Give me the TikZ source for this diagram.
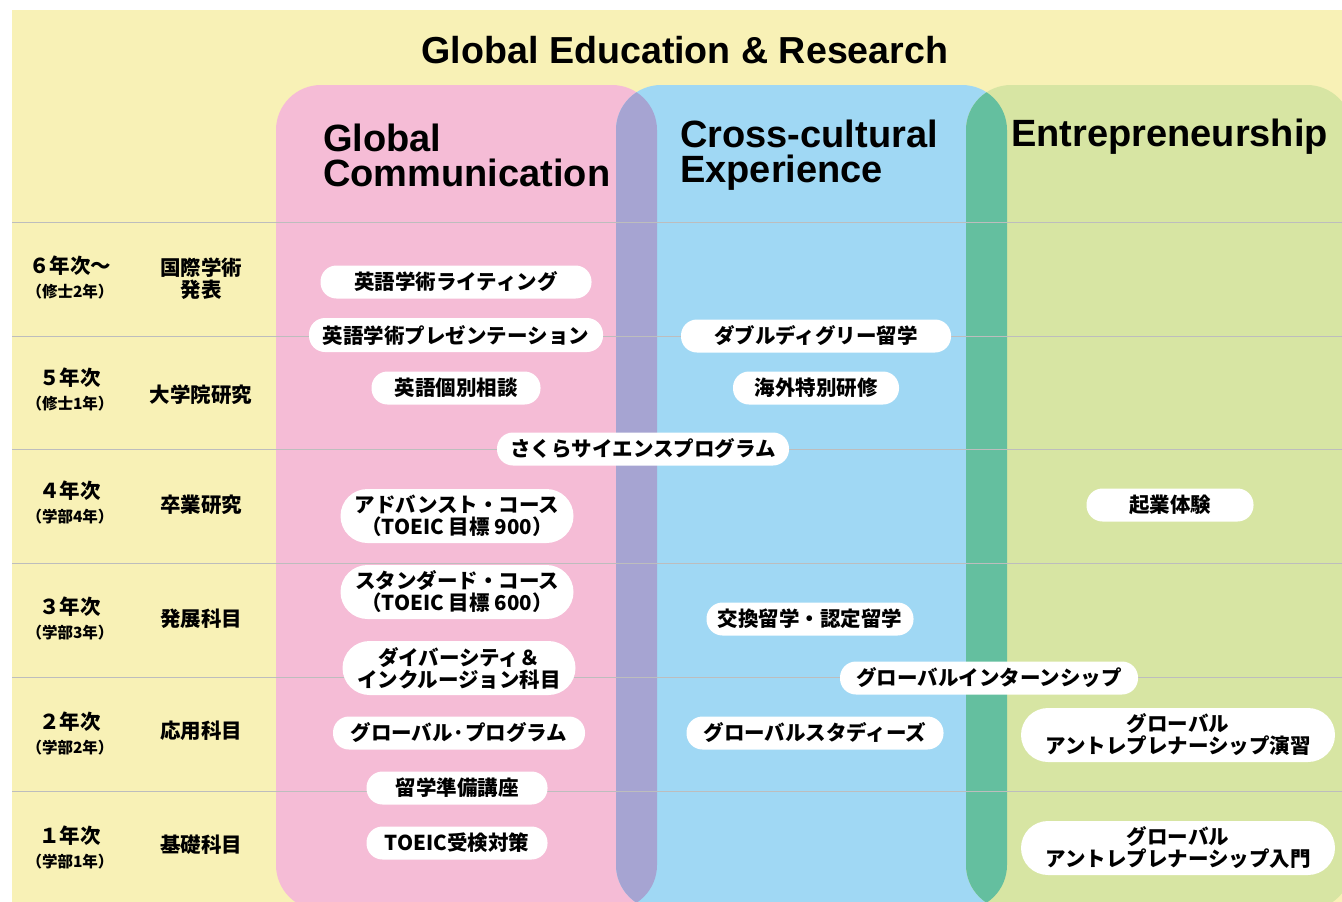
\documentclass[tikz,border=0pt]{standalone}
\usepackage{fontspec}
\setmainfont{Liberation Sans}
\newfontfamily\jp{Noto Sans CJK JP}
\usepackage{tikz}
\usetikzlibrary{positioning}

\definecolor{bgyellow}{HTML}{F8F1B6}
\definecolor{gcpink}{HTML}{F5BCD6}
\definecolor{ccblue}{HTML}{A0D8F4}
\definecolor{engreen}{HTML}{D7E5A3}
\definecolor{pbmix}{HTML}{A6A4D2}
\definecolor{bgmix}{HTML}{64BF9F}
\definecolor{rowline}{HTML}{BDBDBD}

\begin{document}
\begin{tikzpicture}[x=1pt,y=-1pt]
\tikzstyle{pill} = [fill=white, rounded corners=16pt, minimum height=33pt, inner ysep=2pt, inner xsep=4pt, font=\jp\bfseries\fontsize{20.5}{22}\selectfont, align=center]
\tikzstyle{pilltwo} = [pill, rounded corners=27pt, minimum height=54pt]
\tikzstyle{yearlabel} = [inner sep=0pt, align=center, font=\jp\bfseries\fontsize{20.5}{24}\selectfont]
\tikzstyle{stagelabel} = [inner sep=0pt, align=center, font=\jp\bfseries\fontsize{20.5}{22}\selectfont]
\tikzstyle{colhead} = [inner sep=0pt, anchor=west, align=left, font=\bfseries\fontsize{38}{35}\selectfont]
\newcommand{\sub}[1]{{\fontsize{15.5}{17}\selectfont #1}}

\useasboundingbox (0,0) rectangle (1342,902);
\clip (0,0) rectangle (1342,902);
\fill[white] (0,0) rectangle (1342,902);
\fill[bgyellow] (12,10) rectangle (1342,902);

% columns
\fill[gcpink, rounded corners=45pt] (276,85) rectangle (657,910);
\fill[ccblue, rounded corners=45pt] (616,85) rectangle (1007,910);
\fill[engreen, rounded corners=45pt] (966,85) rectangle (1352,910);
\begin{scope}
\clip[rounded corners=45pt] (276,85) rectangle (657,910);
\fill[pbmix, rounded corners=45pt] (616,85) rectangle (1007,910);
\end{scope}
\begin{scope}
\clip[rounded corners=45pt] (616,85) rectangle (1007,910);
\fill[bgmix, rounded corners=45pt] (966,85) rectangle (1352,910);
\end{scope}

% row lines
\draw[rowline, line width=1pt] (12,222) -- (1342,222);
\draw[rowline, line width=1pt] (12,336) -- (1342,336);
\draw[rowline, line width=1pt] (12,449.5) -- (1342,449.5);
\draw[rowline, line width=1pt] (12,563) -- (1342,563);
\draw[rowline, line width=1pt] (12,677) -- (1342,677);
\draw[rowline, line width=1pt] (12,791) -- (1342,791);

% headings
\node (title) at (685,50) [inner sep=0pt, font=\bfseries\fontsize{37.6}{40}\selectfont] {Global Education \& Research};
\node (gc) at (323,155) [colhead] {Global\\Communication};
\node (cc) at (680,155) [colhead] {Cross-cultural\\Experience};
\node (en) at (1011,137) [colhead] {Entrepreneurship};

% years and stages
\node (y6) at (70,277) [yearlabel] {６年次〜\\\sub{（修士2年）}};
\node (y5) at (70,389) [yearlabel] {５年次\\\sub{（修士1年）}};
\node (y4) at (70,502) [yearlabel] {４年次\\\sub{（学部4年）}};
\node (y3) at (70,618) [yearlabel] {３年次\\\sub{（学部3年）}};
\node (y2) at (70,733) [yearlabel] {２年次\\\sub{（学部2年）}};
\node (y1) at (70,847) [yearlabel] {１年次\\\sub{（学部1年）}};
\node (s6) at (201,279) [stagelabel] {国際学術\\発表};
\node (s5) at (201,395) [stagelabel] {大学院研究};
\node (s4) at (201,505) [stagelabel] {卒業研究};
\node (s3) at (201,619) [stagelabel] {発展科目};
\node (s2) at (201,731) [stagelabel] {応用科目};
\node (s1) at (201,845) [stagelabel] {基礎科目};

% global communication
\node (wr) at (456,282) [pill, minimum width=271pt] {英語学術ライティング};
\node (pr) at (456,335) [pill, minimum width=294pt, minimum height=34pt] {英語学術プレゼンテーション};
\node (ec) at (456,388) [pill, minimum width=169pt] {英語個別相談};
\node (sakura) at (643,449) [pill, minimum width=292pt] {さくらサイエンスプログラム};
\node (adv) at (457,516) [pilltwo, minimum width=233pt] {アドバンスト・コース\\（TOEIC 目標 900）};
\node (std) at (457,592) [pilltwo, minimum width=233pt] {スタンダード・コース\\（TOEIC 目標 600）};
\node (dei) at (459,668) [pilltwo, minimum width=233pt] {ダイバーシティ＆\\インクルージョン科目};
\node (gp) at (459,733) [pill, minimum width=252pt] {グローバル·プログラム};
\node (prep) at (457,788) [pill, minimum width=181pt] {留学準備講座};
\node (toeic) at (457,843) [pill, minimum width=181pt] {TOEIC受検対策};

% cross-cultural experience
\node (dd) at (816,336) [pill, minimum width=270pt] {ダブルディグリー留学};
\node (ot) at (816,388) [pill, minimum width=166pt] {海外特別研修};
\node (ex) at (810,619) [pill, minimum width=207pt] {交換留学・認定留学};
\node (intern) at (989,678) [pill, minimum width=298pt] {グローバルインターンシップ};
\node (gs) at (815,733) [pill, minimum width=257pt] {グローバルスタディーズ};

% entrepreneurship
\node (sb) at (1170,505) [pill, minimum width=167pt] {起業体験};
\node (ge) at (1178,735) [pilltwo, minimum width=314pt] {グローバル\\アントレプレナーシップ演習};
\node (ep) at (1178,848) [pilltwo, minimum width=314pt] {グローバル\\アントレプレナーシップ入門};
\end{tikzpicture}
\end{document}
